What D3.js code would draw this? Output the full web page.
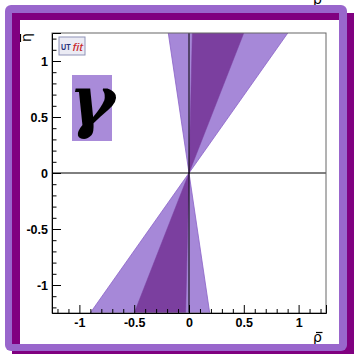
<!DOCTYPE html>
<html>
<head>
<meta charset="utf-8">
<script src="https://cdn.jsdelivr.net/npm/d3@7"></script>
<style>
  html, body { margin: 0; padding: 0; background: #fff; }
  svg { display: block; }
</style>
</head>
<body>
<svg id="chart" width="354" height="354"></svg>
<script>
// Allowed regions for the angle gamma (degrees), drawn as wedges in the (rho, eta) plane
const gamma95 = [54.2, 98.6];
const gamma68 = [68.2, 88.6];

// Axis ticks
const xMajor = [-1, -0.5, 0, 0.5, 1];
const yMajor = [-1, -0.5, 0, 0.5, 1];
const xMinor = [-1.2, -1.1, -0.9, -0.8, -0.7, -0.6, -0.4, -0.3, -0.2, -0.1, 0.1, 0.2, 0.3, 0.4, 0.6, 0.7, 0.8, 0.9, 1.1, 1.2];
const yMinor = [-1.2, -1.1, -0.9, -0.8, -0.7, -0.6, -0.4, -0.3, -0.2, -0.1, 0.1, 0.2, 0.3, 0.4, 0.6, 0.7, 0.8, 0.9, 1.1, 1.2];
const tickLabels = ["-1", "-0.5", "0", "0.5", "1"];

const SANS = "'Liberation Sans', Arial, Helvetica, sans-serif";
const svg = d3.select("#chart");

// fragment of a neighbouring panel's axis title peeking in at the top
svg.append("text").attr("x", 313).attr("y", 4)
  .style("font-family", "'DejaVu Sans'").style("font-size", "14px").text("ρ");

// decorative purple frame with drop shadow
svg.append("rect").attr("x", 12).attr("y", 13).attr("width", 342).attr("height", 341).attr("fill", "#800080");
svg.append("rect").attr("x", 5).attr("y", 5).attr("width", 342).attr("height", 346).attr("rx", 6).attr("fill", "#9966cc");
svg.append("rect").attr("x", 12).attr("y", 13).attr("width", 327).attr("height", 331).attr("fill", "#800080");
svg.append("rect").attr("x", 20).attr("y", 20).attr("width", 319).attr("height", 324).attr("fill", "#ffffff");

svg.append("clipPath").attr("id", "inner")
  .append("rect").attr("x", 20).attr("y", 20).attr("width", 319).attr("height", 324);

const g = svg.append("g").attr("clip-path", "url(#inner)");

const x = d3.scaleLinear().domain([-1.25, 1.25]).range([52, 326]);
const y = d3.scaleLinear().domain([-1.25, 1.25]).range([313, 33]);

g.append("clipPath").attr("id", "plotArea")
  .append("rect").attr("x", x(-1.25)).attr("y", y(1.25))
  .attr("width", x(1.25) - x(-1.25)).attr("height", y(-1.25) - y(1.25));

const plot = g.append("g").attr("clip-path", "url(#plotArea)");

// wedge from the origin between two angles (and its mirror at +180 deg)
const R = 6;
function wedge(range, offset) {
  const a1 = (range[0] + offset) * Math.PI / 180;
  const a2 = (range[1] + offset) * Math.PI / 180;
  return [[0, 0], [R * Math.cos(a1), R * Math.sin(a1)], [R * Math.cos(a2), R * Math.sin(a2)]];
}
const line = d3.line().x(d => x(d[0])).y(d => y(d[1]));

[0, 180].forEach(off => {
  plot.append("path").attr("d", line(wedge(gamma95, off)) + "Z")
    .attr("fill", "#a688d8").attr("stroke", "#8a62c8").attr("stroke-width", 0.8);
  plot.append("path").attr("d", line(wedge(gamma68, off)) + "Z")
    .attr("fill", "#7b3f9f").attr("stroke", "#7b3f9f").attr("stroke-width", 0.5);
});

// reference axes through the origin
plot.append("line").attr("x1", x(0)).attr("x2", x(0)).attr("y1", y(1.25)).attr("y2", y(-1.25))
  .attr("stroke", "#000").attr("stroke-width", 1);
plot.append("line").attr("x1", x(-1.25)).attr("x2", x(1.25)).attr("y1", y(0)).attr("y2", y(0))
  .attr("stroke", "#000").attr("stroke-width", 1);

// plot frame
g.append("rect").attr("x", x(-1.25)).attr("y", y(1.25))
  .attr("width", x(1.25) - x(-1.25)).attr("height", y(-1.25) - y(1.25))
  .attr("fill", "none").attr("stroke", "#666").attr("stroke-width", 1);

const fmt = d => tickLabels[xMajor.indexOf(d)];

// x axis: major + minor ticks pointing into the plot
g.append("g").attr("transform", `translate(0,${y(-1.25)})`)
  .call(d3.axisBottom(x).tickValues(xMajor).tickSize(-8).tickPadding(5).tickFormat(fmt));
g.append("g").attr("transform", `translate(0,${y(-1.25)})`)
  .call(d3.axisBottom(x).tickValues(xMinor).tickSize(-4).tickFormat(""))
  .select(".domain").remove();

g.append("g").attr("transform", `translate(${x(-1.25)},0)`)
  .call(d3.axisLeft(y).tickValues(yMajor).tickSize(-9).tickPadding(4).tickFormat(d => tickLabels[yMajor.indexOf(d)]));
g.append("g").attr("transform", `translate(${x(-1.25)},0)`)
  .call(d3.axisLeft(y).tickValues(yMinor).tickSize(-4.5).tickFormat(""))
  .select(".domain").remove();

g.selectAll(".tick text")
  .style("font-family", SANS).style("font-size", "12.5px").style("font-weight", "bold")
  .attr("fill", "#000");
g.selectAll(".domain").attr("stroke", "#000");

// axis titles
g.append("text").attr("x", 322).attr("y", 342).attr("text-anchor", "end")
  .style("font-family", "'DejaVu Sans'").style("font-size", "14px").text("ρ");
g.append("line").attr("x1", 316).attr("x2", 322.5).attr("y1", 332.5).attr("y2", 332.5)
  .attr("stroke", "#000").attr("stroke-width", 1.2);

const etaT = g.append("g").attr("transform", "translate(31,33) rotate(-90)");
etaT.append("text").attr("x", 0).attr("y", 0).attr("text-anchor", "end")
  .style("font-family", "'DejaVu Sans'").style("font-size", "14px").text("η");
etaT.append("line").attr("x1", -9).attr("x2", -1).attr("y1", -10.5).attr("y2", -10.5)
  .attr("stroke", "#000").attr("stroke-width", 1.2);

// UTfit badge
const logo = g.append("g").attr("transform", "translate(59,37)");
logo.append("rect").attr("width", 26).attr("height", 18)
  .attr("fill", "#ebebf4").attr("stroke", "#8f93b8").attr("stroke-width", 1);
logo.append("text").attr("x", 2).attr("y", 12.5)
  .style("font-family", SANS).style("font-size", "9px").style("font-weight", "bold")
  .attr("textLength", 9.5).attr("lengthAdjust", "spacingAndGlyphs")
  .attr("fill", "#27327a").text("UT");
logo.append("text").attr("x", 13.5).attr("y", 14)
  .style("font-family", SANS).style("font-size", "10px").style("font-style", "italic")
  .attr("textLength", 10.5).attr("lengthAdjust", "spacingAndGlyphs")
  .attr("fill", "#c8262a").text("fit");

// gamma label
g.append("rect").attr("x", 72).attr("y", 75).attr("width", 40).attr("height", 66).attr("fill", "#a98bd9");
g.append("text").attr("x", 92).attr("y", 125).attr("text-anchor", "middle")
  .style("font-family", "'DejaVu Serif'").style("font-size", "70px")
  .style("font-style", "italic").style("font-weight", "bold")
  .attr("fill", "#000").text("γ");
</script>
</body>
</html>
